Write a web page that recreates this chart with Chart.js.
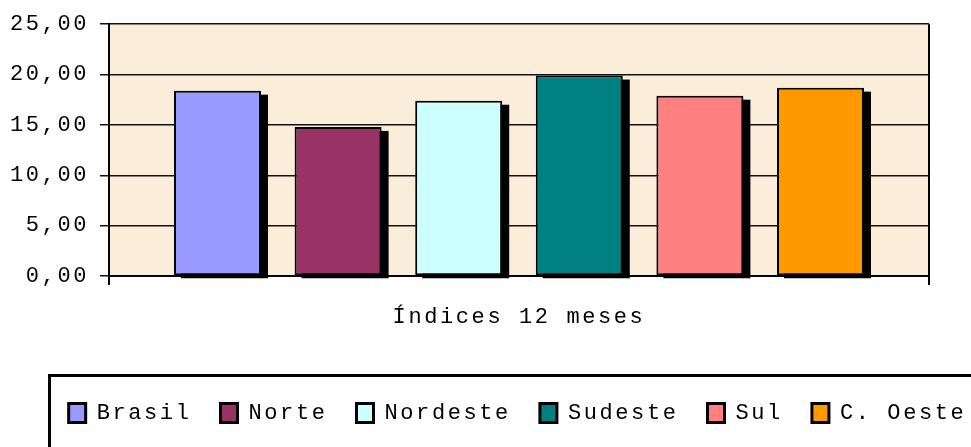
<!DOCTYPE html>
<html>
<head>
<meta charset="utf-8">
<script src="https://cdn.jsdelivr.net/npm/chart.js@4/dist/chart.umd.min.js"></script>
<style>
  html, body { margin: 0; padding: 0; background: #ffffff; }
  #wrap { width: 971px; height: 447px; }
</style>
</head>
<body>
<div id="wrap"><canvas id="c" width="971" height="447"></canvas></div>
<script>
const categories = ['Índices 12 meses'];
const seriesNames = ['Brasil', 'Norte', 'Nordeste', 'Sudeste', 'Sul', 'C. Oeste'];
const seriesValues = [18.4, 14.8, 17.4, 19.9, 17.9, 18.7];
const seriesColors = ['#9999FF', '#993366', '#CCFFFF', '#008080', '#FF8080', '#FF9900'];
const yMin = 0, yMax = 25, yStep = 5;

const FONT = { family: "'Liberation Mono', 'Courier New', monospace", size: 22 };
const SPACING = '2.6px';

const spacingPlugin = {
  id: 'spacing',
  beforeUpdate(chart) { chart.ctx.letterSpacing = SPACING; },
  beforeLayout(chart) { chart.ctx.letterSpacing = SPACING; },
  afterLayout(chart) {
    // shift legend so that its items are centred like the reference
    const lg = chart.legend;
    const a = chart.chartArea;
    const want = (a.left + a.right) / 2 - 1.5;
    const have = (lg.left + lg.right) / 2;
    lg.left += want - have;
    lg.right += want - have;
  },
  beforeDraw(chart) { chart.ctx.letterSpacing = SPACING; }
};

const bgPlugin = {
  id: 'bg',
  beforeDraw(chart) {
    const { ctx, chartArea: a } = chart;
    ctx.save();
    ctx.fillStyle = '#ffffff';
    ctx.fillRect(0, 0, chart.width, chart.height);
    ctx.fillStyle = '#FAEEDA';
    ctx.fillRect(a.left, a.top, a.right - a.left, a.bottom - a.top);
    ctx.restore();
  }
};

const shadowPlugin = {
  id: 'shadow',
  beforeDatasetsDraw(chart) {
    const ctx = chart.ctx;
    ctx.save();
    ctx.fillStyle = '#000000';
    chart.data.datasets.forEach((ds, i) => {
      const meta = chart.getDatasetMeta(i);
      meta.data.forEach(el => {
        const p = el.getProps(['x', 'y', 'base', 'width'], true);
        ctx.fillRect(p.x - p.width / 2 + 7, p.y + 4, p.width, p.base - p.y - 1);
      });
    });
    ctx.restore();
  }
};

const legendBoxPlugin = {
  id: 'legendBox',
  afterDraw(chart) {
    const ctx = chart.ctx;
    const a = chart.chartArea;
    const cx = (a.left + a.right) / 2;
    ctx.save();
    ctx.strokeStyle = '#000000';
    ctx.lineWidth = 3;
    ctx.strokeRect(cx - 469.5, a.bottom + 99.5, 960, 120);
    ctx.restore();
  }
};

new Chart(document.getElementById('c'), {
  type: 'bar',
  data: {
    labels: categories,
    datasets: seriesNames.map((name, i) => ({
      label: name,
      data: [seriesValues[i]],
      backgroundColor: seriesColors[i],
      borderColor: '#000000',
      borderWidth: 2,
      borderSkipped: false,
      categoryPercentage: 0.8824,
      barPercentage: 0.7214
    }))
  },
  options: {
    responsive: false,
    animation: false,
    devicePixelRatio: 1,
    layout: { padding: { left: 0, top: 21, right: 0, bottom: 13 } },
    plugins: {
      tooltip: { enabled: false },
      legend: {
        position: 'bottom',
        fullSize: true,
        align: 'center',
        labels: {
          font: FONT,
          color: '#000000',
          boxWidth: 17,
          boxHeight: 19,
          padding: 29,
          generateLabels(chart) {
            return chart.data.datasets.map((ds, i) => ({
              text: ds.label,
              fillStyle: ds.backgroundColor,
              strokeStyle: '#000000',
              lineWidth: 3,
              fontColor: '#000000',
              datasetIndex: i,
              hidden: false
            }));
          }
        }
      }
    },
    scales: {
      x: {
        offset: true,
        grid: {
          display: true,
          offset: true,
          drawOnChartArea: true,
          drawTicks: true,
          tickLength: 9,
          color: '#000000',
          lineWidth: 2
        },
        border: { display: true, color: '#000000', width: 2 },
        ticks: { font: FONT, color: '#000000', padding: 19 },
        afterFit(s) { s.height = 97; }
      },
      y: {
        min: yMin,
        max: yMax,
        grid: {
          color: '#111111',
          lineWidth: 1.5,
          drawTicks: true,
          tickLength: 9
        },
        border: { display: true, color: '#000000', width: 2 },
        ticks: {
          stepSize: yStep,
          font: FONT,
          color: '#000000',
          padding: 11,
          callback: v => v.toFixed(2).replace('.', ',')
        },
        afterFit(s) { s.width = 109; }
      },
      yRightSpace: {
        type: 'linear',
        position: 'right',
        display: true,
        grid: { display: false, drawTicks: false },
        border: { display: false },
        ticks: { display: false },
        afterFit(s) { s.width = 42; }
      }
    }
  },
  plugins: [spacingPlugin, bgPlugin, shadowPlugin, legendBoxPlugin]
});
</script>
</body>
</html>
